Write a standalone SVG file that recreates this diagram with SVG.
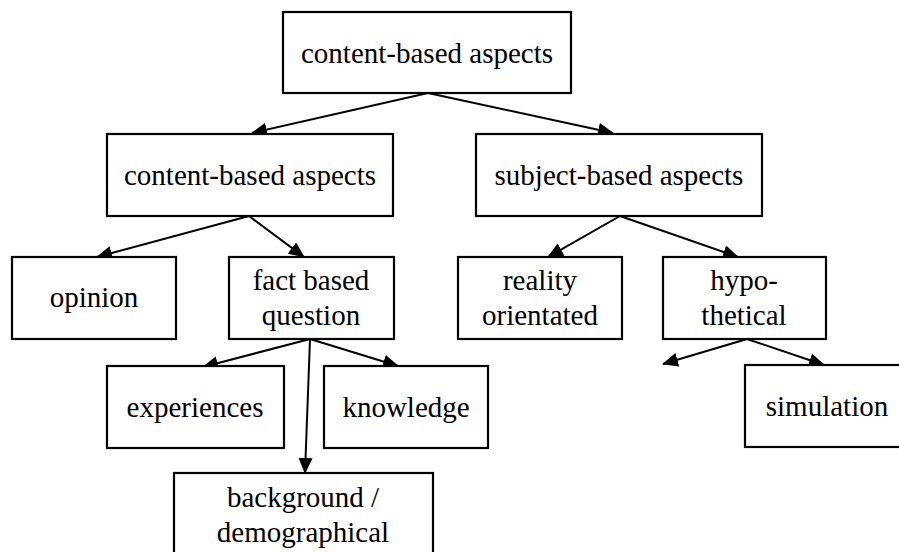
<svg xmlns="http://www.w3.org/2000/svg" width="899" height="552" viewBox="0 0 899 552" font-family="'Liberation Serif', 'Times New Roman', serif">
  <defs>
    <style>
      .box { fill: #ffffff; stroke: #000000; stroke-width: 2.2; }
      .lbl { font-size: 29px; fill: #000000; text-anchor: middle; }
      .edge { stroke: #000000; stroke-width: 2; fill: none; marker-end: url(#arrow); }
    </style>
    <marker id="arrow" markerUnits="userSpaceOnUse" markerWidth="16" markerHeight="14" viewBox="0 0 16 14" refX="15" refY="7" orient="auto">
      <path d="M0,0 L16,7 L0,14 Z" fill="#000000"/>
    </marker>
  </defs>

  <rect width="899" height="552" fill="#ffffff"/>

  <g id="connectors">
    <line class="edge" x1="428" y1="93" x2="252" y2="133"/>
    <line class="edge" x1="428" y1="93" x2="613" y2="133"/>
    <line class="edge" x1="249" y1="216" x2="97" y2="257"/>
    <line class="edge" x1="249" y1="216" x2="304" y2="257"/>
    <line class="edge" x1="620" y1="216" x2="548" y2="257"/>
    <line class="edge" x1="620" y1="216" x2="738" y2="257"/>
    <line class="edge" x1="310" y1="339" x2="203" y2="367"/>
    <line class="edge" x1="310" y1="339" x2="398" y2="366"/>
    <line class="edge" x1="310" y1="339" x2="305" y2="473"/>
    <line class="edge" x1="747" y1="339" x2="663" y2="364"/>
    <line class="edge" x1="747" y1="339" x2="824" y2="365"/>
  </g>

  <g id="root">
    <rect class="box" x="283" y="12" width="288" height="81"/>
    <text class="lbl" x="427" y="63" font-family="Liberation Serif">content-based aspects</text>
  </g>

  <g id="content-based">
    <rect class="box" x="107" y="134" width="286" height="82"/>
    <text class="lbl" x="250" y="185" font-family="Liberation Serif">content-based aspects</text>
  </g>

  <g id="subject-based">
    <rect class="box" x="476" y="134" width="286" height="82"/>
    <text class="lbl" x="619" y="185" font-family="Liberation Serif">subject-based aspects</text>
  </g>

  <g id="opinion">
    <rect class="box" x="12" y="257" width="164" height="82"/>
    <text class="lbl" x="94" y="307" font-family="Liberation Serif">opinion</text>
  </g>

  <g id="fact-based">
    <rect class="box" x="229" y="257" width="165" height="82"/>
    <text class="lbl" x="311" y="290" font-family="Liberation Serif">fact based</text>
    <text class="lbl" x="311" y="325" font-family="Liberation Serif">question</text>
  </g>

  <g id="reality">
    <rect class="box" x="458" y="257" width="164" height="82"/>
    <text class="lbl" x="540" y="290" font-family="Liberation Serif">reality</text>
    <text class="lbl" x="540" y="325" font-family="Liberation Serif">orientated</text>
  </g>

  <g id="hypothetical">
    <rect class="box" x="663" y="257" width="163" height="82"/>
    <text class="lbl" x="744" y="290" font-family="Liberation Serif">hypo-</text>
    <text class="lbl" x="744" y="325" font-family="Liberation Serif">thetical</text>
  </g>

  <g id="experiences">
    <rect class="box" x="107" y="366" width="177" height="82"/>
    <text class="lbl" x="195" y="417" font-family="Liberation Serif">experiences</text>
  </g>

  <g id="knowledge">
    <rect class="box" x="324" y="366" width="164" height="82"/>
    <text class="lbl" x="406" y="417" font-family="Liberation Serif">knowledge</text>
  </g>

  <g id="background">
    <rect class="box" x="174" y="473" width="259" height="90"/>
    <text class="lbl" x="303" y="507" font-family="Liberation Serif">background /</text>
    <text class="lbl" x="303" y="542" font-family="Liberation Serif">demographical</text>
  </g>

  <g id="simulation">
    <rect class="box" x="745" y="365" width="170" height="82"/>
    <text class="lbl" x="827" y="416" font-family="Liberation Serif">simulation</text>
  </g>
</svg>
